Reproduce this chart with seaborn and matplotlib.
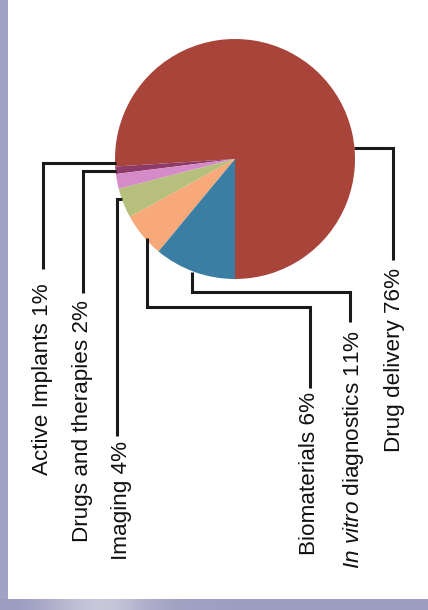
import numpy as np
import matplotlib
matplotlib.use("Agg")
import matplotlib.pyplot as plt
import seaborn as sns

# data, in the order the wedges are drawn (counter-clockwise from the bottom)
segments = ["Drug delivery", "Active Implants", "Drugs and therapies",
            "Imaging", "Biomaterials", "In vitro diagnostics"]
shares = [76, 1, 2, 4, 6, 11]
seg_colors = ["#A8443A", "#8E3B6A", "#D58BC8", "#B6C07C", "#F7A97A", "#3A7FA3"]

sns.set_theme(style="white")
plt.rcParams["font.family"] = ["Liberation Sans", "DejaVu Sans"]
plt.rcParams["mathtext.fontset"] = "custom"
plt.rcParams["mathtext.rm"] = "Liberation Sans"
plt.rcParams["mathtext.it"] = "Liberation Sans:italic"

W, H = 428, 610
fig = plt.figure(figsize=(W / 100, H / 100), dpi=100)
fig.patch.set_facecolor("white")
ax = fig.add_axes([0, 0, 1, 1])

palette = sns.color_palette(seg_colors)
cx, cy, r = 235, H - 159, 120
ax.pie(shares, colors=palette, startangle=-90, counterclock=True,
       center=(cx, cy), radius=r, frame=True,
       wedgeprops=dict(linewidth=0))

# leader lines (pixel layout, y measured from the top) and label anchors
leaders = {
    "Drug delivery": ([cx + r - 1, 393, 393], [148, 148, 260], 395, 268),
    "Active Implants": ([cx - r + 1, 43, 43], [163, 163, 269], 43, 283),
    "Drugs and therapies": ([cx - r + 1, 83, 83], [171, 171, 293], 83, 300),
    "Imaging": ([122, 117, 117], [199, 199, 436], 121, 441),
    "Biomaterials": ([147, 147, 310, 310], [238, 307, 307, 388], 310, 392),
    "In vitro diagnostics": ([192, 192, 350, 350], [272, 292, 292, 322], 354, 330),
}

for name, pct in zip(segments, shares):
    xs, ys, tx, ty = leaders[name]
    ax.plot(xs, [H - y for y in ys], color="#1a1a1a", lw=2.2,
            solid_joinstyle="miter", solid_capstyle="butt")
    label = f"{name} {pct}%"
    if name.startswith("In vitro"):
        label = r"$\mathit{In\ vitro}$" + f" {name[9:]} {pct}%"
    ax.text(tx, H - ty, label, rotation=90, ha="center", va="top",
            fontsize=16.2, color="#111111")

# purple frame: left strip and bottom gradient strip
ax.add_patch(plt.Rectangle((0, 0), 8, H, color="#A2A2C6", lw=0, zorder=0))
grad = np.array([[0.0, 0.2, 0.6, 0.9, 1.0, 0.5, 0.2, 0.1, 0.1, 0.0, 0.05,
                  0.0, 0.0, 0.05, 0.0, 0.0, 0.0]])
ax.imshow(grad, cmap=sns.blend_palette(["#9C9CC0", "#CACADC"], as_cmap=True),
          extent=(0, W, 0, 11), aspect="auto", interpolation="bicubic",
          vmin=0, vmax=1, zorder=0)

ax.set_xlim(0, W)
ax.set_ylim(0, H)
ax.set_aspect("auto")
ax.axis("off")

fig.savefig("out.png", dpi=100, facecolor="white")
